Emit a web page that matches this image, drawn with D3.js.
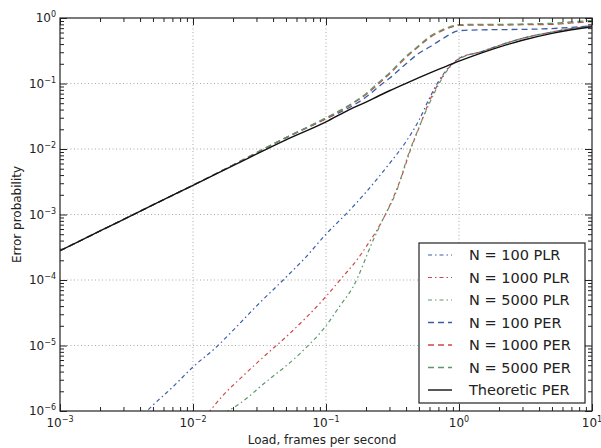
<!DOCTYPE html>
<html><head><meta charset="utf-8">
<script src="https://cdn.jsdelivr.net/npm/d3@7"></script>
<style>
body{margin:0;background:#fff;}
svg{font-family:"DejaVu Sans",sans-serif;}
</style></head>
<body><svg id="c" width="601" height="448"></svg>
<script>
// ---- data ----
const xTickVals = [1e-3, 1e-2, 1e-1, 1, 10];
const xTickExp = ["-3", "-2", "-1", "0", "1"];
const yTickVals = [1e-6, 1e-5, 1e-4, 1e-3, 1e-2, 1e-1, 1];
const yTickExp = ["-6", "-5", "-4", "-3", "-2", "-1", "0"];

const loadPER = [0.001,0.002,0.005,0.01,0.02,0.05,0.1,0.15,0.2,0.25,0.3,0.4,0.5,0.6,0.7,0.8,1,1.5,2,3,5,7,10];
const theoPER  = [2.8e-4,5.6e-4,1.4e-3,2.79e-3,5.57e-3,0.0138,0.026,0.040,0.052,0.065,0.0775,0.1007,0.1228,0.1438,0.1639,0.183,0.219,0.296,0.359,0.457,0.583,0.662,0.737];
const per100   = [2.8e-4,5.6e-4,1.4e-3,2.8e-3,5.7e-3,0.0148,0.029,0.043,0.062,0.09,0.12,0.20,0.29,0.36,0.44,0.52,0.64,0.66,0.665,0.67,0.69,0.72,0.76];
const per1000  = [2.8e-4,5.6e-4,1.4e-3,2.8e-3,5.7e-3,0.0150,0.029,0.046,0.068,0.10,0.14,0.25,0.37,0.50,0.60,0.68,0.77,0.78,0.78,0.79,0.80,0.84,0.88];
const per5000  = [2.8e-4,5.6e-4,1.4e-3,2.8e-3,5.7e-3,0.0150,0.030,0.047,0.070,0.105,0.145,0.26,0.38,0.52,0.62,0.70,0.79,0.80,0.80,0.81,0.83,0.87,0.92];

const load100PLR = [0.004,0.005,0.007,0.01,0.015,0.02,0.03,0.05,0.07,0.1,0.15,0.2,0.3,0.4,0.5,0.6,0.7,0.8,1,1.5,2,3,5,7,10];
const plr100     = [7.9e-7,1.23e-6,2.3e-6,4.7e-6,9.5e-6,1.7e-5,4.0e-5,1.1e-4,2.2e-4,5.0e-4,1.15e-3,2.2e-3,6.0e-3,0.013,0.0275,0.060,0.107,0.158,0.24,0.31,0.38,0.49,0.61,0.69,0.76];
const load1000PLR = [0.013,0.0165,0.024,0.035,0.05,0.07,0.1,0.13,0.17,0.2,0.27,0.37,0.43,0.5,0.6,0.7,0.8,1,1.5,2,3,5,7,10];
const plr1000     = [9.3e-7,1.66e-6,3.5e-6,7.1e-6,1.35e-5,2.6e-5,5.6e-5,1.05e-4,2.0e-4,3.2e-4,8.7e-4,3.8e-3,9.5e-3,0.021,0.054,0.10,0.155,0.24,0.31,0.38,0.49,0.61,0.69,0.76];
const load5000PLR = [0.0175,0.0225,0.034,0.064,0.1,0.127,0.16,0.227,0.27,0.34,0.415,0.48,0.6,0.7,0.8,1,1.5,2,3,5,7,10];
const plr5000     = [9.5e-7,1.3e-6,2.6e-6,7.6e-6,2.0e-5,4.0e-5,7.9e-5,4.1e-4,8.7e-4,2.3e-3,8.1e-3,0.0174,0.050,0.095,0.15,0.235,0.31,0.38,0.49,0.61,0.69,0.76];

const seriesNames = ["N = 100 PLR","N = 1000 PLR","N = 5000 PLR","N = 100 PER","N = 1000 PER","N = 5000 PER","Theoretic PER"];

// ---- layout ----
const svg = d3.select("#c");
const L = 60, R = 592, T = 18, B = 411;
const x = d3.scaleLog().domain([1e-3, 10]).range([L, R]);
const y = d3.scaleLog().domain([1e-6, 1]).range([B, T]);

const colBlue = "#3a5ea8", colRed = "#cc4a4a", colGreen = "#5a9a6a", colBlack = "#111";
const dashPLR = "4,3,1.5,3", dashPER = "6,4";
const styles = [
  {c: colBlue, d: dashPLR, w: 1.2},
  {c: colRed, d: dashPLR, w: 1.2},
  {c: colGreen, d: dashPLR, w: 1.2},
  {c: colBlue, d: dashPER, w: 1.3},
  {c: colRed, d: dashPER, w: 1.3},
  {c: colGreen, d: dashPER, w: 1.3},
  {c: colBlack, d: null, w: 1.4}
];
const seriesData = [
  d3.zip(load100PLR, plr100),
  d3.zip(load1000PLR, plr1000),
  d3.zip(load5000PLR, plr5000),
  d3.zip(loadPER, per100),
  d3.zip(loadPER, per1000),
  d3.zip(loadPER, per5000),
  d3.zip(loadPER, theoPER)
];

// minor tick positions
const minorX = [];
for (let e = -3; e < 1; e++) for (let m = 2; m <= 9; m++) minorX.push(m * Math.pow(10, e));
const minorY = [];
for (let e = -6; e < 0; e++) for (let m = 2; m <= 9; m++) minorY.push(m * Math.pow(10, e));

// grid
const grid = svg.append("g");
grid.selectAll(".gx").data(xTickVals.slice(1, -1)).enter().append("line")
  .attr("x1", d => x(d)).attr("x2", d => x(d)).attr("y1", T).attr("y2", B)
  .attr("stroke", "#aaa").attr("stroke-width", 1).attr("stroke-dasharray", "1,2.5");
grid.selectAll(".gy").data(yTickVals.slice(1, -1)).enter().append("line")
  .attr("y1", d => y(d)).attr("y2", d => y(d)).attr("x1", L).attr("x2", R)
  .attr("stroke", "#aaa").attr("stroke-width", 1).attr("stroke-dasharray", "1,2.5");

// clip
svg.append("clipPath").attr("id", "clip").append("rect")
  .attr("x", L).attr("y", T).attr("width", R - L).attr("height", B - T);

const line = d3.line().x(d => x(d[0])).y(d => y(d[1])).curve(d3.curveMonotoneX);
const plot = svg.append("g").attr("clip-path", "url(#clip)");
seriesData.forEach((s, i) => {
  plot.append("path").datum(s).attr("d", line).attr("fill", "none")
    .attr("stroke", styles[i].c).attr("stroke-width", styles[i].w)
    .attr("stroke-dasharray", styles[i].d);
});

// axes (ticks inside)
function styleAxis(g) {
  g.select(".domain").remove();
  g.selectAll("line").attr("stroke", "#222");
}
const fmtNone = () => "";
svg.append("g").attr("transform", `translate(0,${B})`)
  .call(d3.axisBottom(x).tickValues(xTickVals).tickSize(-7).tickFormat(fmtNone)).call(styleAxis);
svg.append("g").attr("transform", `translate(0,${B})`)
  .call(d3.axisBottom(x).tickValues(minorX).tickSize(-4).tickFormat(fmtNone)).call(styleAxis);
svg.append("g").attr("transform", `translate(0,${T})`)
  .call(d3.axisTop(x).tickValues(xTickVals).tickSize(-7).tickFormat(fmtNone)).call(styleAxis);
svg.append("g").attr("transform", `translate(0,${T})`)
  .call(d3.axisTop(x).tickValues(minorX).tickSize(-4).tickFormat(fmtNone)).call(styleAxis);
svg.append("g").attr("transform", `translate(${L},0)`)
  .call(d3.axisLeft(y).tickValues(yTickVals).tickSize(-7).tickFormat(fmtNone)).call(styleAxis);
svg.append("g").attr("transform", `translate(${L},0)`)
  .call(d3.axisLeft(y).tickValues(minorY).tickSize(-4).tickFormat(fmtNone)).call(styleAxis);
svg.append("g").attr("transform", `translate(${R},0)`)
  .call(d3.axisRight(y).tickValues(yTickVals).tickSize(-7).tickFormat(fmtNone)).call(styleAxis);
svg.append("g").attr("transform", `translate(${R},0)`)
  .call(d3.axisRight(y).tickValues(minorY).tickSize(-4).tickFormat(fmtNone)).call(styleAxis);

// frame
svg.append("rect").attr("x", L).attr("y", T).attr("width", R - L).attr("height", B - T)
  .attr("fill", "none").attr("stroke", "#222").attr("stroke-width", 1.2);

// tick labels
const xl = svg.append("g");
xTickVals.forEach((v, i) => {
  const t = xl.append("text").attr("x", x(v)).attr("y", 427).attr("text-anchor", "middle")
    .attr("font-size", 12).attr("fill", "#222");
  t.append("tspan").text("10");
  t.append("tspan").attr("dy", -5).attr("font-size", 8).text(xTickExp[i].replace("-", "\u2212"));
});
const yl = svg.append("g");
yTickVals.forEach((v, i) => {
  const t = yl.append("text").attr("x", 56).attr("y", y(v) + 4).attr("text-anchor", "end")
    .attr("font-size", 12).attr("fill", "#222");
  t.append("tspan").text("10");
  t.append("tspan").attr("dy", -5).attr("font-size", 8).text(yTickExp[i].replace("-", "\u2212"));
});

// axis labels
svg.append("text").attr("x", (L + R) / 2 - 4).attr("y", 444).attr("text-anchor", "middle")
  .attr("font-size", 12).attr("fill", "#222").text("Load, frames per second");
svg.append("text").attr("transform", `translate(21,${(T + B) / 2}) rotate(-90)`)
  .attr("text-anchor", "middle").attr("font-size", 12).attr("fill", "#222").text("Error probability");

// legend
const lg = svg.append("g");
lg.append("rect").attr("x", 419).attr("y", 243).attr("width", 166).attr("height", 160)
  .attr("fill", "#fff").attr("stroke", "#222").attr("stroke-width", 1.2);
seriesNames.forEach((n, i) => {
  const yy = 255 + i * 22.5;
  lg.append("line").attr("x1", 428).attr("x2", 452).attr("y1", yy).attr("y2", yy)
    .attr("stroke", styles[i].c).attr("stroke-width", styles[i].w)
    .attr("stroke-dasharray", styles[i].d);
  lg.append("text").attr("x", 469).attr("y", yy + 5).attr("font-size", 14.5)
    .attr("fill", "#222").text(n);
});
</script></body></html>
